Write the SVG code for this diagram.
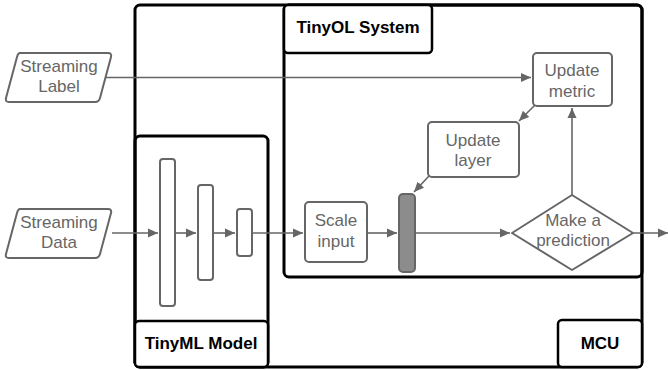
<svg xmlns="http://www.w3.org/2000/svg" width="668" height="370" viewBox="0 0 668 370">
<defs>
<marker id="ah" viewBox="0 0 10 10" refX="10" refY="5" markerWidth="10" markerHeight="10" markerUnits="userSpaceOnUse" orient="auto">
<path d="M0,0.5 L10,5 L0,9.5 z" fill="#666"/>
</marker>
<style>
.cont{fill:none;stroke:#000;stroke-width:3}
.lbl{fill:#fff;stroke:#000;stroke-width:2.5}
.bt{font-family:"Liberation Sans",Arial,sans-serif;font-weight:bold;font-size:17px;fill:#000;text-anchor:middle}
.node{fill:#fff;stroke:#666;stroke-width:2}
.nt{font-family:"Liberation Sans",Arial,sans-serif;font-size:17px;fill:#666;text-anchor:middle}
.con{fill:none;stroke:#666;stroke-width:1.6;marker-end:url(#ah)}
</style>
</defs>
<rect width="668" height="370" fill="#fff"/>
<g id="containers">
<rect class="cont" x="135" y="5" width="507" height="362" rx="5"/>
<rect class="cont" x="135" y="136" width="133" height="231" rx="5"/>
<rect class="cont" x="284" y="5" width="358" height="272" rx="5"/>
</g>
<g id="connectors">
<path class="con" d="M105,77.5 H531"/>
<path class="con" d="M112,233 H158"/>
<path class="con" d="M175,233 H196"/>
<path class="con" d="M213,233 H235"/>
<path class="con" d="M252,233 H303"/>
<path class="con" d="M367,233 H397"/>
<path class="con" d="M415,233 H510"/>
<path class="con" d="M633,233 H668"/>
<path class="con" d="M572,195 V108"/>
<path class="con" d="M535,105 L519,121"/>
<path class="con" d="M429,176 L414,192"/>
</g>
<g id="tinyol-label">
<rect class="lbl" x="284" y="5" width="148" height="48" rx="4"/>
<text class="bt" x="358" y="33">TinyOL System</text>
</g>
<g id="tinyml-label">
<rect class="lbl" x="135" y="321" width="133" height="46" rx="4"/>
<text class="bt" x="201" y="349">TinyML Model</text>
</g>
<g id="mcu-label">
<rect class="lbl" x="558" y="320" width="84" height="47" rx="4"/>
<text class="bt" x="600" y="349">MCU</text>
</g>
<g id="streaming-label">
<path class="node" d="M20,53 H108 Q112,53 111,57 L100,98 Q99,102 95,102 H9 Q5,102 6,98 L17,57 Q18,53 20,53 z"/>
<text class="nt" x="59" y="72">Streaming</text>
<text class="nt" x="59" y="92">Label</text>
</g>
<g id="streaming-data">
<path class="node" d="M20,209 H108 Q112,209 111,213 L100,254 Q99,258 95,258 H9 Q5,258 6,254 L17,213 Q18,209 20,209 z"/>
<text class="nt" x="59" y="228">Streaming</text>
<text class="nt" x="59" y="248">Data</text>
</g>
<g id="layer1"><rect class="node" x="160" y="159" width="15" height="147" rx="3"/></g>
<g id="layer2"><rect class="node" x="198" y="185" width="15" height="95" rx="3"/></g>
<g id="layer3"><rect class="node" x="237" y="209" width="15" height="47" rx="3"/></g>
<g id="scale-input">
<rect class="node" x="305" y="202" width="62" height="60" rx="4"/>
<text class="nt" x="336" y="226">Scale</text>
<text class="nt" x="336" y="247">input</text>
</g>
<g id="tinyol-layer"><rect x="399" y="194" width="16" height="78" rx="4" fill="#8c8c8c" stroke="#666" stroke-width="2"/></g>
<g id="update-layer">
<rect class="node" x="428" y="122" width="91" height="55" rx="4"/>
<text class="nt" x="473" y="146">Update</text>
<text class="nt" x="473" y="166">layer</text>
</g>
<g id="update-metric">
<rect class="node" x="533" y="53" width="79" height="53" rx="4"/>
<text class="nt" x="572" y="76">Update</text>
<text class="nt" x="572" y="97">metric</text>
</g>
<g id="make-prediction">
<path class="node" stroke-linejoin="round" d="M572,195 L633,233 L572,270 L512,233 z"/>
<text class="nt" x="573" y="226">Make a</text>
<text class="nt" x="573" y="246">prediction</text>
</g>
</svg>
